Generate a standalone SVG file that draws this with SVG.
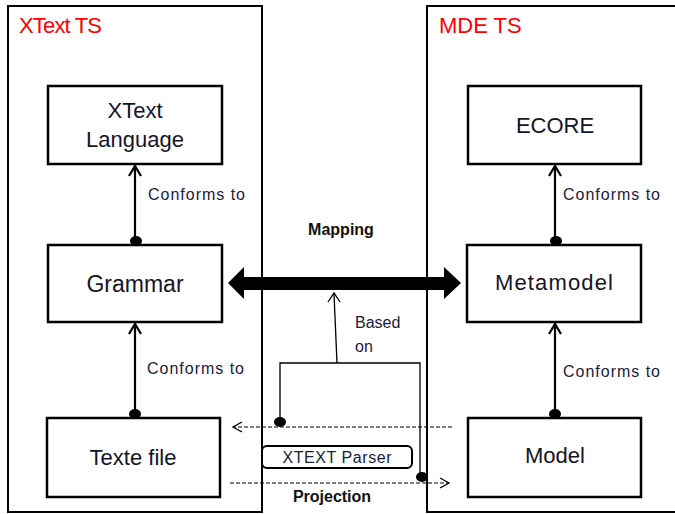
<svg xmlns="http://www.w3.org/2000/svg" width="675" height="514" viewBox="0 0 675 514">
<style>
.frame{fill:none;stroke:#000;stroke-width:2}
.node{fill:#fff;stroke:#000;stroke-width:2.5}
.ntext{font-family:"Liberation Sans",Arial,sans-serif;font-size:22px;fill:#141428;text-anchor:middle}
.title{font-family:"Liberation Sans",Arial,sans-serif;font-size:22px;fill:#ff0000}
.lbl{font-family:"Liberation Sans",Arial,sans-serif;font-size:16px;fill:#1a1a40}
.blbl{font-family:"Liberation Sans",Arial,sans-serif;font-size:16px;font-weight:bold;fill:#111;text-anchor:middle}
.conf{fill:none;stroke:#000;stroke-width:2.2}
.thin{fill:none;stroke:#000;stroke-width:1.3}
.dash{fill:none;stroke:#000;stroke-width:1.2;stroke-dasharray:4 2}
.dot{fill:#000}
</style>
<rect width="675" height="514" fill="#fff"/>
<g id="xtext-ts">
<rect class="frame" x="8" y="6" width="254" height="506"/>
<text class="title" x="19" y="33" textLength="83">XText TS</text>
</g>
<g id="mde-ts">
<rect class="frame" x="427" y="6" width="260" height="506"/>
<text class="title" x="439" y="33">MDE TS</text>
</g>
<g id="connectors">
<line class="conf" x1="135" y1="166" x2="135" y2="240"/>
<polyline class="conf" points="129,176 135,166 141,176"/>
<ellipse class="dot" cx="136" cy="241" rx="6" ry="5"/>
<line class="conf" x1="135" y1="324" x2="135" y2="414"/>
<polyline class="conf" points="129,334 135,324 141,334"/>
<ellipse class="dot" cx="135" cy="414" rx="6" ry="5"/>
<line class="conf" x1="555" y1="166" x2="555" y2="240"/>
<polyline class="conf" points="549,176 555,166 561,176"/>
<ellipse class="dot" cx="556" cy="241" rx="6" ry="5"/>
<line class="conf" x1="555" y1="324" x2="555" y2="414"/>
<polyline class="conf" points="549,334 555,324 561,334"/>
<ellipse class="dot" cx="555" cy="414" rx="6" ry="5"/>
<polygon fill="#000" points="228,283 244,267 244,277 444,277 444,267 461,283 444,299 444,290 244,290 244,299"/>
<polyline class="thin" points="280,421 280,363 420,363 420,477"/>
<line class="thin" x1="337" y1="363" x2="334" y2="294"/>
<polyline class="thin" points="328,302 334,293 340,302"/>
<line class="dash" x1="452" y1="427" x2="233" y2="427"/>
<polyline class="thin" points="242,422 233,427 242,432"/>
<line class="dash" x1="230" y1="483" x2="449" y2="483"/>
<polyline class="thin" points="440,478 449,483 440,488"/>
<ellipse class="dot" cx="280" cy="422" rx="6" ry="5"/>
<ellipse class="dot" cx="422" cy="477" rx="6" ry="5"/>
<text class="lbl" x="148" y="200" textLength="97">Conforms to</text>
<text class="lbl" x="147" y="374" textLength="97">Conforms to</text>
<text class="lbl" x="563" y="200" textLength="97">Conforms to</text>
<text class="lbl" x="563" y="377" textLength="97">Conforms to</text>
<text class="blbl" x="341" y="235">Mapping</text>
<text class="lbl" x="355" y="328">Based</text>
<text class="lbl" x="355" y="352">on</text>
<text class="blbl" x="332" y="502">Projection</text>
</g>
<g id="xtext-language">
<rect class="node" x="48" y="86" width="174" height="78"/>
<text class="ntext" x="135" y="118">XText</text>
<text class="ntext" x="135" y="147">Language</text>
</g>
<g id="grammar">
<rect class="node" x="48" y="245" width="174" height="77"/>
<text class="ntext" x="135" y="292" style="font-size:23px">Grammar</text>
</g>
<g id="texte-file">
<rect class="node" x="47" y="418" width="173" height="79"/>
<text class="ntext" x="133" y="465">Texte file</text>
</g>
<g id="ecore">
<rect class="node" x="468" y="86" width="173" height="78"/>
<text class="ntext" x="555" y="133">ECORE</text>
</g>
<g id="metamodel">
<rect class="node" x="467" y="245" width="174" height="77"/>
<text class="ntext" x="554" y="290" textLength="118">Metamodel</text>
</g>
<g id="model">
<rect class="node" x="468" y="418" width="173" height="79"/>
<text class="ntext" x="555" y="463">Model</text>
</g>
<g id="xtext-parser">
<rect x="262" y="446" width="150" height="22" rx="5" fill="#fff" stroke="#000" stroke-width="2"/>
<text class="lbl" x="337" y="463" text-anchor="middle" textLength="109">XTEXT Parser</text>
</g>
</svg>
